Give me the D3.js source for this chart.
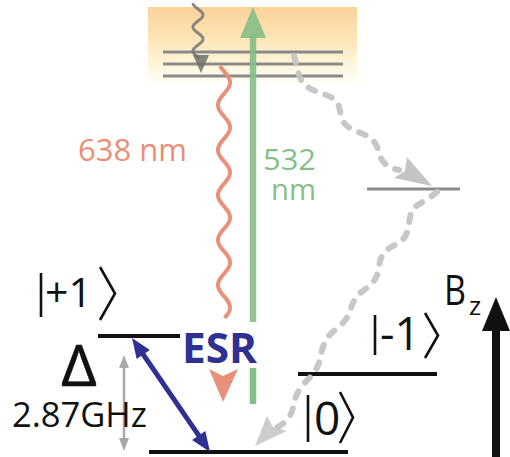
<!DOCTYPE html>
<html>
<head>
<meta charset="utf-8">
<script src="https://cdn.jsdelivr.net/npm/d3@7"></script>
<style>
  html, body { margin: 0; padding: 0; background: #fff; }
  svg { display: block; }
  text { font-family: "Open Sans", "Noto Sans", sans-serif; }
</style>
</head>
<body>
<svg id="chart" width="510" height="457"></svg>
<script>
// NV-centre energy level scheme: ground-state triplet, excited band,
// metastable singlet, optical pumping / emission and intersystem crossing.

// Energy axis (arbitrary units, ground |0> = 0, top of excited band = 100)
const groundLevels = [
  { label: "0",  energy: 0,    from: 149, to: 348 },
  { label: "-1", energy: 19.5, from: 298, to: 437 },
  { label: "+1", energy: 29,   from: 98,  to: 180 }
];
const excitedLevels = [100, 97, 94];          // vibronic excited band
const metastableLevel = { energy: 65.75, from: 367, to: 460 };

// Transition labels
const emissionLabel = ["638 nm"];
const pumpLabel = ["532", "nm"];
const splittingLabel = ["Δ", "2.87GHz"];
const fieldLabel = ["B", "z"];
const esrLabel = "ESR";

// Non-radiative decay routes (intersystem crossing), in diagram units
const iscDown = [[294,56],[298,70],[301,84],[316,92],[334,97],[340,106],[341,122],[352,130],[370,136],[378,146],[380,160],[390,168],[399,170]];
const iscReturn = [[437,192],[427,200],[416,205],[410,213],[409,226],[406,237],[398,244],[388,248],[381,256],[379,266],[377,278],[369,287],[359,293],[352,303],[349,316],[340,327],[329,334],[322,347],[320,362],[314,374],[303,384],[295,396],[293,410],[288,421],[276,428]];

const svg = d3.select("#chart");
const W = 510, H = 457;

const x = d3.scaleLinear().domain([0, W]).range([0, W]);
const y = d3.scaleLinear().domain([0, 100]).range([452, 52]);

const defs = svg.append("defs");
const grad = defs.append("linearGradient")
  .attr("id", "exBand").attr("x1", 0).attr("y1", 0).attr("x2", 0).attr("y2", 1);
[[0, "#fbd29a"], [0.35, "#fde3b2"], [0.7, "#fff5d8"], [1, "#ffffff"]].forEach(([o, c]) =>
  grad.append("stop").attr("offset", o).attr("stop-color", c));

// excited-state band background
svg.append("rect")
  .attr("x", x(148)).attr("y", 7)
  .attr("width", x(357) - x(148)).attr("height", 80)
  .attr("fill", "url(#exBand)");

// excited vibronic levels
svg.selectAll("line.ex").data(excitedLevels).join("line")
  .attr("class", "ex")
  .attr("x1", x(163)).attr("x2", x(343))
  .attr("y1", d => y(d)).attr("y2", d => y(d))
  .attr("stroke", "#8a8a8a").attr("stroke-width", 3.2);

// metastable singlet
svg.append("line")
  .attr("x1", x(metastableLevel.from)).attr("x2", x(metastableLevel.to))
  .attr("y1", y(metastableLevel.energy)).attr("y2", y(metastableLevel.energy))
  .attr("stroke", "#8a8a8a").attr("stroke-width", 3.2);

// ground-state sublevels
svg.selectAll("line.gs").data(groundLevels).join("line")
  .attr("class", "gs")
  .attr("x1", d => x(d.from)).attr("x2", d => x(d.to))
  .attr("y1", d => y(d.energy)).attr("y2", d => y(d.energy))
  .attr("stroke", "#111").attr("stroke-width", 4);

// helper: vertical sine wave between y0 and y1
function wave(cx, y0, y1, amp, period, phaseY) {
  const pts = d3.range(y0, y1 + 0.5, 0.5).map(v =>
    [cx - amp * Math.cos(2 * Math.PI * (v - phaseY) / period), v]);
  return d3.line()(pts);
}

// vibrational relaxation inside the excited band
svg.append("path")
  .attr("d", wave(198, 3, 58, 5, 24, 27))
  .attr("fill", "none").attr("stroke", "#777").attr("stroke-width", 3)
  .attr("opacity", 0.85);
svg.append("path")
  .attr("d", `M${x(193)},55 L${x(209)},55 L${x(201)},73 Z`)
  .attr("fill", "#6f6f6f").attr("opacity", 0.85);

// 532 nm pump (with a gap behind the ESR label)
const green = "#86be87";
svg.append("line")
  .attr("x1", x(253)).attr("x2", x(253)).attr("y1", 404).attr("y2", 368)
  .attr("stroke", green).attr("stroke-width", 6.5);
svg.append("line")
  .attr("x1", x(253)).attr("x2", x(253)).attr("y1", 322).attr("y2", 34)
  .attr("stroke", green).attr("stroke-width", 6.5).attr("opacity", 0.9);
svg.append("path")
  .attr("d", `M${x(240)},38 L${x(253)},7 L${x(266)},38 Z`)
  .attr("fill", green).attr("opacity", 0.9);

// 638 nm emission
const salmon = "#e8907a";
svg.append("path")
  .attr("d", wave(224, 66, 318, 6, 45, 60))
  .attr("fill", "none").attr("stroke", salmon).attr("stroke-width", 4);
svg.append("path")
  .attr("d", `M${x(209)},369 L${x(223)},376 L${x(238)},369 L${x(223)},402 Z`)
  .attr("fill", salmon);

// intersystem crossing routes
const curve = d3.line().x(d => x(d[0])).y(d => d[1]).curve(d3.curveBasis);
[iscDown, iscReturn].forEach(route => {
  svg.append("path")
    .attr("d", curve(route))
    .attr("fill", "none").attr("stroke", "#c4c4c4").attr("stroke-width", 6)
    .attr("stroke-linecap", "round").attr("stroke-dasharray", "7 11")
    .attr("opacity", 0.95);
});
svg.append("path")
  .attr("d", `M${x(407)},157 L${x(432)},186 L${x(394)},178 L${x(405)},171 Z`)
  .attr("fill", "#c4c4c4");
svg.append("path")
  .attr("d", `M${x(267)},416 L${x(273)},427 L${x(287)},431 L${x(255)},446 Z`)
  .attr("fill", "#c8c8c8").attr("opacity", 0.9);

// zero-field splitting indicator
const gy0 = y(groundLevels[0].energy), gy1 = y(groundLevels[2].energy);
svg.append("line")
  .attr("x1", x(124)).attr("x2", x(124)).attr("y1", gy1 + 28).attr("y2", gy0 - 10)
  .attr("stroke", "#a9a9a9").attr("stroke-width", 2.5);
svg.append("path")
  .attr("d", `M${x(119)},${gy1 + 32} L${x(124)},${gy1 + 19} L${x(129)},${gy1 + 32} Z`)
  .attr("fill", "#a9a9a9");
svg.append("path")
  .attr("d", `M${x(119)},${gy0 - 14} L${x(124)},${gy0 - 1} L${x(129)},${gy0 - 14} Z`)
  .attr("fill", "#a9a9a9");

// ESR microwave transition |0> <-> |+1>
const navy = "#2e3192";
const p1 = [x(132), 338], p2 = [x(210), 452];
const ang = Math.atan2(p2[1] - p1[1], p2[0] - p1[0]);
const headLen = 20, headW = 8;
function head(tip, a) {
  const bx = tip[0] - headLen * Math.cos(a), by = tip[1] - headLen * Math.sin(a);
  const nx = -Math.sin(a) * headW, ny = Math.cos(a) * headW;
  return `M${tip[0]},${tip[1]} L${bx + nx},${by + ny} L${bx - nx},${by - ny} Z`;
}
svg.append("line")
  .attr("x1", p1[0] + 14 * Math.cos(ang)).attr("y1", p1[1] + 14 * Math.sin(ang))
  .attr("x2", p2[0] - 14 * Math.cos(ang)).attr("y2", p2[1] - 14 * Math.sin(ang))
  .attr("stroke", navy).attr("stroke-width", 5);
svg.append("path").attr("d", head(p1, ang + Math.PI)).attr("fill", navy);
svg.append("path").attr("d", head(p2, ang)).attr("fill", navy);

// magnetic field arrow
svg.append("line")
  .attr("x1", x(496)).attr("x2", x(496)).attr("y1", 460).attr("y2", 320)
  .attr("stroke", "#111").attr("stroke-width", 8);
svg.append("path")
  .attr("d", `M${x(482)},331 L${x(496)},297 L${x(510)},331 Z`)
  .attr("fill", "#111");

// ket labels: bar, quantum number, angle bracket
const kets = [
  { text: "+1", size: 41, bar: 41, top: 273, bottom: 317, tx: 45,  base: 307, b0: 100, b1: 115, bt: 267, bb: 320 },
  { text: "-1", size: 45, bar: 375, top: 315, bottom: 355, tx: 380, base: 350, b0: 425, b1: 438, bt: 313, bb: 358 },
  { text: "0",  size: 46, bar: 308, top: 395, bottom: 442, tx: 314, base: 435, b0: 340, b1: 353, bt: 392, bb: 443 }
];
const ketG = svg.selectAll("g.ket").data(kets).join("g").attr("class", "ket");
ketG.append("line")
  .attr("x1", d => x(d.bar)).attr("x2", d => x(d.bar))
  .attr("y1", d => d.top).attr("y2", d => d.bottom)
  .attr("stroke", "#111").attr("stroke-width", 2.6);
ketG.append("text")
  .attr("x", d => x(d.tx)).attr("y", d => d.base)
  .attr("font-size", d => d.size).attr("fill", "#111")
  .text(d => d.text);
ketG.append("path")
  .attr("d", d => `M${x(d.b0)},${d.bt} L${x(d.b1)},${(d.bt + d.bb) / 2} L${x(d.b0)},${d.bb}`)
  .attr("fill", "none").attr("stroke", "#111").attr("stroke-width", 2.6);

// wavelength labels
svg.append("text").attr("x", x(78)).attr("y", 161)
  .attr("font-size", 31).attr("fill", "#ea8e74")
  .attr("textLength", 109).attr("lengthAdjust", "spacingAndGlyphs")
  .text(emissionLabel[0]);
const pump = svg.append("text").attr("font-size", 30).attr("fill", green);
pump.append("tspan").attr("x", x(263)).attr("y", 170)
  .attr("textLength", 53).attr("lengthAdjust", "spacingAndGlyphs")
  .text(pumpLabel[0]);
pump.append("tspan").attr("x", x(271)).attr("y", 200)
  .attr("textLength", 45).attr("lengthAdjust", "spacingAndGlyphs")
  .text(pumpLabel[1]);

// splitting labels (symbol above value)
const split = svg.append("text").attr("fill", "#111");
split.append("tspan").attr("x", x(61)).attr("y", 386)
  .attr("font-size", 57).attr("stroke", "#111").attr("stroke-width", 0.5)
  .attr("textLength", 36).attr("lengthAdjust", "spacingAndGlyphs")
  .text(splittingLabel[0]);
split.append("tspan").attr("x", x(12)).attr("y", 427)
  .attr("font-size", 35)
  .attr("textLength", 135).attr("lengthAdjust", "spacingAndGlyphs")
  .text(splittingLabel[1]);

// ESR label
svg.append("text").attr("x", x(182)).attr("y", 363)
  .attr("font-size", 42).attr("font-weight", "bold").attr("fill", navy)
  .attr("textLength", 75).attr("lengthAdjust", "spacingAndGlyphs")
  .text(esrLabel);

// field label with subscript
const field = svg.append("text").attr("fill", "#111");
field.append("tspan").attr("x", x(444)).attr("y", 305)
  .attr("font-size", 42)
  .attr("textLength", 22).attr("lengthAdjust", "spacingAndGlyphs")
  .text(fieldLabel[0]);
field.append("tspan").attr("x", x(469)).attr("y", 315)
  .attr("font-size", 26)
  .text(fieldLabel[1]);
</script>
</body>
</html>
